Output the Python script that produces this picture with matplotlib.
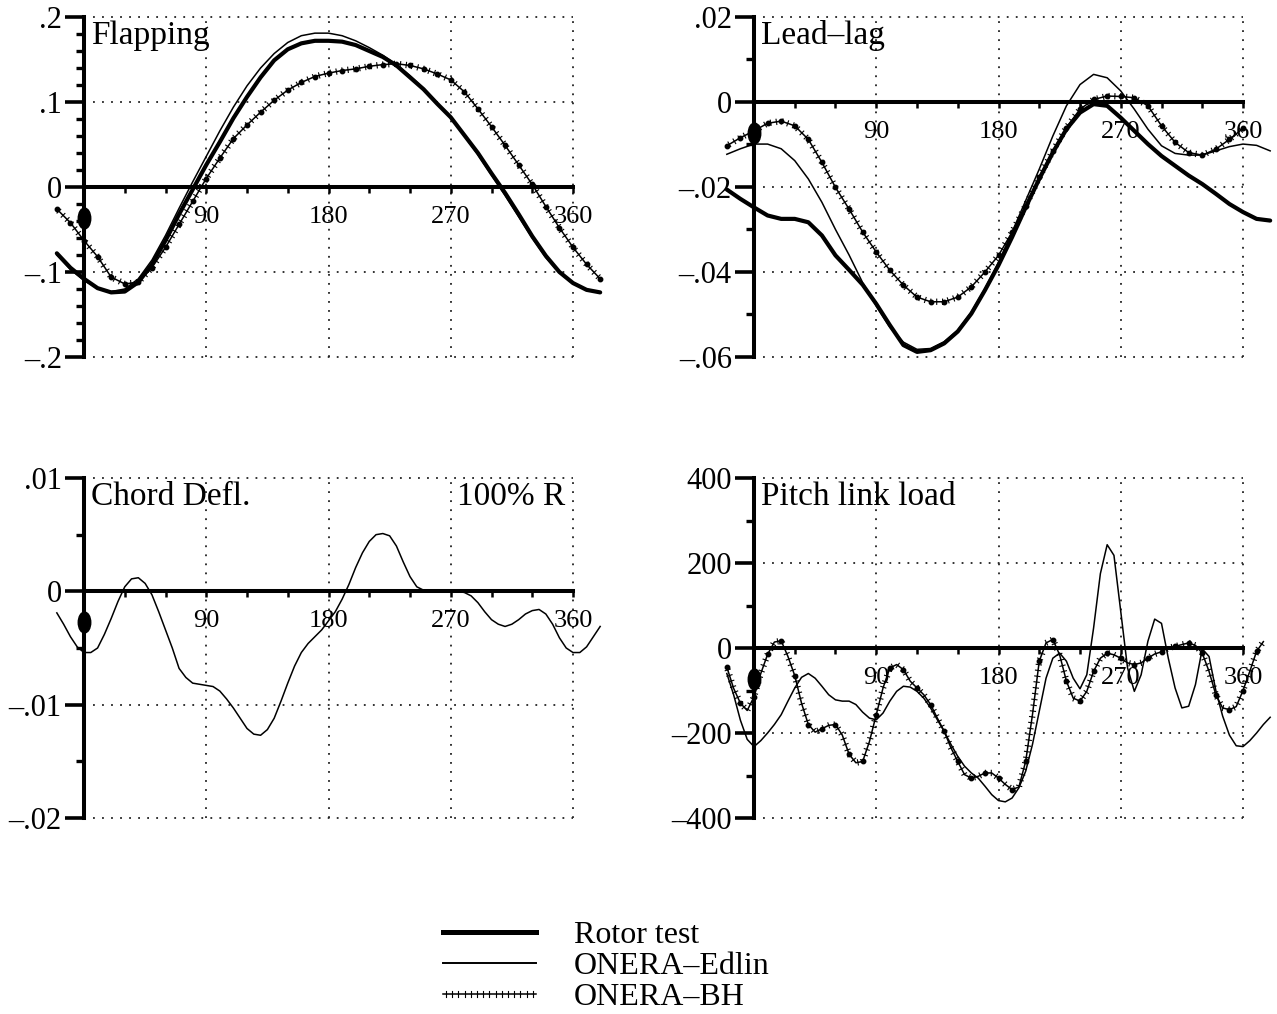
import numpy as np
import matplotlib
matplotlib.use("Agg")
import matplotlib.pyplot as plt
from matplotlib import patheffects
from matplotlib.lines import Line2D
from matplotlib.markers import MarkerStyle
from matplotlib.ticker import MultipleLocator
from matplotlib.transforms import Affine2D, offset_copy

plt.rcParams["font.family"] = ["Liberation Serif", "DejaVu Serif"]

# azimuth grids (deg)
deg10 = np.arange(-20, 381, 10)
deg5 = np.arange(-20, 381, 5)

# Flapping
flap_test = [-0.078, -0.095, -0.108, -0.119, -0.124, -0.123, -0.112, -0.091, -0.063, -0.032,
             -0.003, 0.026, 0.053, 0.081, 0.106, 0.129, 0.149, 0.162, 0.169, 0.172,
             0.172, 0.171, 0.167, 0.160, 0.153, 0.143, 0.129, 0.115, 0.098, 0.082,
             0.061, 0.040, 0.016, -0.007, -0.032, -0.058, -0.081, -0.100, -0.113, -0.121, -0.124]
flap_edlin = [-0.080, -0.097, -0.110, -0.119, -0.123, -0.120, -0.108, -0.086, -0.057, -0.025,
              0.006, 0.036, 0.066, 0.094, 0.119, 0.140, 0.157, 0.170, 0.178, 0.181,
              0.181, 0.178, 0.172, 0.164, 0.155, 0.144, 0.131, 0.116, 0.099, 0.081,
              0.060, 0.038, 0.014, -0.010, -0.035, -0.060, -0.083, -0.101, -0.114, -0.121, -0.124]
flap_bh = [-0.026, -0.042, -0.063, -0.082, -0.106, -0.114, -0.112, -0.095, -0.071, -0.044,
           -0.017, 0.010, 0.034, 0.057, 0.073, 0.088, 0.102, 0.114, 0.123, 0.130,
           0.134, 0.137, 0.139, 0.142, 0.144, 0.145, 0.143, 0.139, 0.133, 0.126,
           0.112, 0.092, 0.071, 0.049, 0.026, 0.003, -0.023, -0.048, -0.071, -0.091, -0.108]

# Lead-lag
ll_test = [-0.0206, -0.0228, -0.0248, -0.0267, -0.0275, -0.0275, -0.0283, -0.0314, -0.0361, -0.0395,
           -0.0430, -0.0475, -0.0525, -0.0572, -0.0588, -0.0584, -0.0568, -0.0540, -0.0498, -0.0443,
           -0.0384, -0.0318, -0.0248, -0.0181, -0.0119, -0.0064, -0.0025, -0.0005, -0.0009, -0.0037,
           -0.0068, -0.0099, -0.0127, -0.0150, -0.0173, -0.0193, -0.0216, -0.0240, -0.0259, -0.0275, -0.0279]
ll_edlin = [-0.0123, -0.0110, -0.0099, -0.0099, -0.0110, -0.0138, -0.0181, -0.0236, -0.0300, -0.0360,
            -0.0425, -0.0480, -0.0530, -0.0565, -0.0582, -0.0580, -0.0564, -0.0537, -0.0494, -0.0439,
            -0.0377, -0.0306, -0.0232, -0.0158, -0.0080, -0.0009, 0.0041, 0.0065, 0.0057, 0.0026,
            -0.0017, -0.0064, -0.0103, -0.0121, -0.0125, -0.0125, -0.0115, -0.0105, -0.0099, -0.0102, -0.0115]
ll_bh_deg = np.arange(-20, 361, 10)
ll_bh = [-0.0103, -0.0084, -0.0068, -0.0050, -0.0045, -0.0056, -0.0088, -0.0142, -0.0201, -0.0252,
         -0.0306, -0.0353, -0.0396, -0.0431, -0.0459, -0.0470, -0.0470, -0.0459, -0.0435, -0.0400,
         -0.0361, -0.0306, -0.0244, -0.0177, -0.0115, -0.0060, -0.0017, 0.0006, 0.0014, 0.0013,
         0.0010, -0.0009, -0.0056, -0.0095, -0.0119, -0.0125, -0.0111, -0.0088, -0.0062]

# Chord deflection, 100% R
chord_edlin = [-0.0019, -0.0029, -0.0040, -0.0049, -0.0054, -0.0054, -0.0050, -0.0038, -0.0024, -0.0009,
               0.0004, 0.0011, 0.0012, 0.0007, -0.0003, -0.0018, -0.0034, -0.0050, -0.0068, -0.0076,
               -0.0081, -0.0082, -0.0083, -0.0084, -0.0088, -0.0095, -0.0103, -0.0112, -0.0121, -0.0126,
               -0.0127, -0.0122, -0.0112, -0.0097, -0.0081, -0.0066, -0.0054, -0.0046, -0.0040, -0.0034,
               -0.0026, -0.0018, -0.0007, 0.0006, 0.0021, 0.0034, 0.0044, 0.0050, 0.0051, 0.0049,
               0.0040, 0.0026, 0.0013, 0.0004, 0.0001, 0.0000, 0.0000, 0.0001, 0.0001, 0.0000,
               -0.0001, -0.0004, -0.0010, -0.0018, -0.0025, -0.0029, -0.0031, -0.0029, -0.0025, -0.0020,
               -0.0017, -0.0016, -0.0020, -0.0029, -0.0041, -0.0050, -0.0054, -0.0054, -0.0049, -0.0040, -0.0031]

# Pitch link load
pl_edlin = [-60, -110, -170, -215, -232, -218, -200, -180, -157, -125,
            -94, -69, -60, -71, -90, -110, -122, -125, -125, -133,
            -151, -165, -169, -153, -125, -102, -90, -92, -102, -118,
            -141, -169, -196, -227, -255, -278, -294, -306, -325, -345,
            -359, -362, -353, -329, -290, -227, -149, -71, -24, -12,
            -31, -71, -96, -63, 47, 175, 243, 218, 86, -47,
            -102, -63, 16, 68, 58, -24, -94, -141, -137, -86,
            -2, -20, -100, -160, -205, -230, -232, -218, -200, -180, -163]
pl_bh_deg = np.arange(-20, 376, 5)
pl_bh = [-45, -95, -130, -147, -115, -60, -15, 14, 17, -20,
         -65, -130, -180, -198, -190, -182, -180, -205, -250, -270,
         -267, -220, -157, -94, -47, -39, -51, -78, -94, -110,
         -133, -165, -196, -235, -267, -298, -306, -302, -294, -294,
         -306, -321, -333, -327, -267, -157, -31, 12, 20, -16,
         -78, -118, -125, -102, -55, -24, -12, -16, -24, -35,
         -39, -35, -24, -14, -9, 0, 4, 8, 12, 6,
         -12, -55, -110, -141, -145, -138, -100, -55, -8, 15]

fig = plt.figure(figsize=(12.77, 10.14), dpi=100)
W, H = 1277, 1014


def ticked():
    return [patheffects.Normal(),
            patheffects.TickedStroke(spacing=4.2, angle=90, length=0.45, linewidth=0.8),
            patheffects.TickedStroke(spacing=4.2, angle=-90, length=0.45, linewidth=0.8)]


def panel(x0, y0, ylim, major, labels, minor, title):
    ax = fig.add_axes([x0 / W, 1 - y0 / H, 489 / W, 340 / H])
    ax.set_xlim(0, 360)
    ax.set_ylim(*ylim)
    for s in ("top", "right"):
        ax.spines[s].set_visible(False)
    ax.spines["left"].set_linewidth(2.9)
    ax.spines["bottom"].set_position(("data", 0))
    ax.spines["bottom"].set_bounds(0, 360)
    ax.spines["bottom"].set_linewidth(2.9)
    ax.set_xticks([90, 180, 270, 360])
    ax.set_xticklabels(["90", "180", "270", "360"], fontsize=19)
    ax.xaxis.set_minor_locator(MultipleLocator(30))
    ax.tick_params(axis="x", which="both", direction="out", length=4.5, width=1.8, pad=9)
    ax.set_yticks(major)
    ax.set_yticklabels(labels, fontsize=22)
    ax.yaxis.set_minor_locator(MultipleLocator(minor))
    ax.tick_params(axis="y", which="major", direction="out", length=14, width=2.6, pad=2)
    ax.tick_params(axis="y", which="minor", direction="out", length=6, width=2.4)
    ax.grid(True, which="major", color="#222222", ls=(0, (1, 4)), lw=1.3)
    for g in ax.get_xgridlines() + ax.get_ygridlines():
        g.set_clip_on(False)
    ax.text(0.015, 0.99, title, transform=ax.transAxes, ha="left", va="top", fontsize=24)
    # azimuth origin mark
    tr = offset_copy(ax.transData, fig=fig, x=0, y=-31, units="dots")
    ax.plot([0], [0], ls="none", color="k", transform=tr, clip_on=False, zorder=5,
            marker=MarkerStyle("o", transform=Affine2D().scale(0.6, 1.0)), markersize=15)
    return ax


def draw(ax, deg, y, kind, every=1):
    if kind == "test":
        ax.plot(deg, y, color="k", lw=3.0, clip_on=False, zorder=4, solid_capstyle="round")
    elif kind == "edlin":
        ax.plot(deg, y, color="k", lw=1.1, clip_on=False, zorder=3)
    else:
        ax.plot(deg, y, color="k", lw=1.1, clip_on=False, zorder=3, path_effects=ticked())
        ax.plot(deg, y, ls="none", marker="o", ms=3.2, color="k", clip_on=False, zorder=3,
                markevery=every)


ax1 = panel(84, 357, (-0.2, 0.2), [-0.2, -0.1, 0, 0.1, 0.2],
            ["\u2013.2", "\u2013.1", "0", ".1", ".2"], 0.02, "Flapping")
draw(ax1, deg10, flap_bh, "bh")
draw(ax1, deg10, flap_edlin, "edlin")
draw(ax1, deg10, flap_test, "test")

ax2 = panel(754, 357, (-0.06, 0.02), [-0.06, -0.04, -0.02, 0, 0.02],
            ["\u2013.06", "\u2013.04", "\u2013.02", "0", ".02"], 0.01, "Lead\u2013lag")
draw(ax2, ll_bh_deg, ll_bh, "bh")
draw(ax2, deg10, ll_edlin, "edlin")
draw(ax2, deg10, ll_test, "test")

ax3 = panel(84, 818, (-0.02, 0.01), [-0.02, -0.01, 0, 0.01],
            ["\u2013.02", "\u2013.01", "0", ".01"], 0.005, "Chord Defl.")
draw(ax3, deg5, chord_edlin, "edlin")
ax3.text(0.985, 0.99, "100% R", transform=ax3.transAxes, ha="right", va="top", fontsize=24)

ax4 = panel(754, 818, (-400, 400), [-400, -200, 0, 200, 400],
            ["\u2013400", "\u2013200", "0", "200", "400"], 100, "Pitch link load")
draw(ax4, pl_bh_deg, pl_bh, "bh", every=2)
draw(ax4, deg5, pl_edlin, "edlin")

handles = [Line2D([], [], color="k", lw=3.6),
           Line2D([], [], color="k", lw=1.4),
           Line2D([], [], color="k", lw=1.1, path_effects=ticked())]
fig.legend(handles, ["Rotor test", "ONERA\u2013Edlin", "ONERA\u2013BH"],
           loc="upper left", bbox_to_anchor=(443 / W, 1 - 921 / H), frameon=False,
           fontsize=23, handlelength=2.9, handletextpad=1.2, labelspacing=0.05,
           borderpad=0, borderaxespad=0)

fig.savefig("out.png", dpi=100)
